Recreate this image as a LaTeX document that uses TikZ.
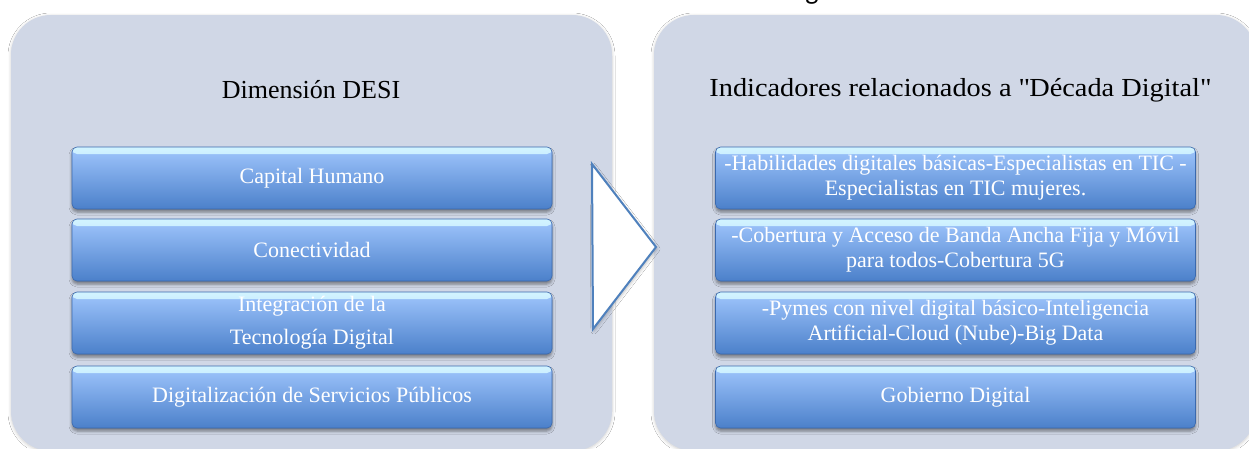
\documentclass[tikz,border=0pt]{standalone}
\usepackage{fontspec}
\setmainfont{Liberation Serif}
\newfontfamily\gfont{Carlito}
\newfontfamily\widefont[FakeStretch=1.09]{Liberation Serif}
\usetikzlibrary{shadows.blur}
\definecolor{panelc}{HTML}{D0D7E6}
\definecolor{boxtop}{HTML}{A0C6FD}
\definecolor{boxmid}{HTML}{82B2F2}
\definecolor{boxbot}{HTML}{4B80CA}
\definecolor{boxedge}{HTML}{3A69AE}
\definecolor{hilite}{HTML}{D2F4FF}
\definecolor{arrowc}{HTML}{4F81BD}
\begin{document}
\begin{tikzpicture}[x=1pt,y=-1pt,
  panel/.style={fill=panelc, rounded corners=40pt, inner sep=0pt,
    blur shadow={shadow xshift=0pt, shadow yshift=-1pt, shadow blur radius=3pt, shadow opacity=20}},
  dbox/.style={rounded corners=5pt, top color=boxtop, middle color=boxmid, bottom color=boxbot,
    draw=boxedge, line width=0.6pt, minimum width=480pt, minimum height=62pt, inner sep=2pt,
    text=white, font=\fontsize{22}{25}\selectfont, align=center,
    blur shadow={shadow xshift=0pt, shadow yshift=-3pt, shadow blur radius=3pt, shadow opacity=45},
    path picture={
      \shade[top color=hilite, bottom color=boxtop]
        (path picture bounding box.north west) rectangle
        ([yshift=-7pt]path picture bounding box.north east);
    }},
  ttl/.style={font=\fontsize{26}{30}\selectfont, text=black, inner sep=0pt}]
\useasboundingbox (0,0) rectangle (1249,448);
\fill[white] (0,0) rectangle (1249,448);

% partial text cut at the top
\node[font=\gfont\fontsize{28}{30}\selectfont, anchor=base, inner sep=0pt] (gfrag) at (812,-1) {g};

% panels
\node[panel, minimum width=601pt, minimum height=436pt] (lp) at (311.5,233) {};
\node[panel, minimum width=602pt, minimum height=436pt] (rp) at (955,233) {};

% titles
\node[ttl] (lt) at (311,90) {Dimensión DESI};
\node[ttl, font=\widefont\fontsize{26}{30}\selectfont] (rt) at (960,90) {Indicadores relacionados a \textquotedbl Década Digital\textquotedbl};

% left boxes
\node[dbox] (l1) at (312,178) {Capital Humano};
\node[dbox] (l2) at (312,250) {Conectividad};
\node[dbox] (l3) at (312,323) {Integración de la\\[8pt]Tecnología Digital};
\node[dbox] (l4) at (312,397) {Digitalización de Servicios Públicos};

% right boxes
\node[dbox] (r1) at (955.5,178) {-Habilidades digitales básicas-Especialistas en TIC -\\Especialistas en TIC mujeres.};
\node[dbox] (r2) at (955.5,250) {-Cobertura y Acceso de Banda Ancha Fija y Móvil\\para todos-Cobertura 5G};
\node[dbox] (r3) at (955.5,323) {-Pymes con nivel digital básico-Inteligencia\\Artificial-Cloud (Nube)-Big Data};
\node[dbox] (r4) at (955.5,397) {Gobierno Digital};

% arrow
\coordinate (a1) at (592,164);
\coordinate (a2) at (656,247);
\coordinate (a3) at (593,329);
\draw[arrowc, fill=white, line width=2pt, line join=miter,
  blur shadow={shadow xshift=1pt, shadow yshift=-2pt, shadow blur radius=3pt, shadow opacity=25}]
  (a1) -- (a2) -- (a3) -- cycle;
\end{tikzpicture}
\end{document}
